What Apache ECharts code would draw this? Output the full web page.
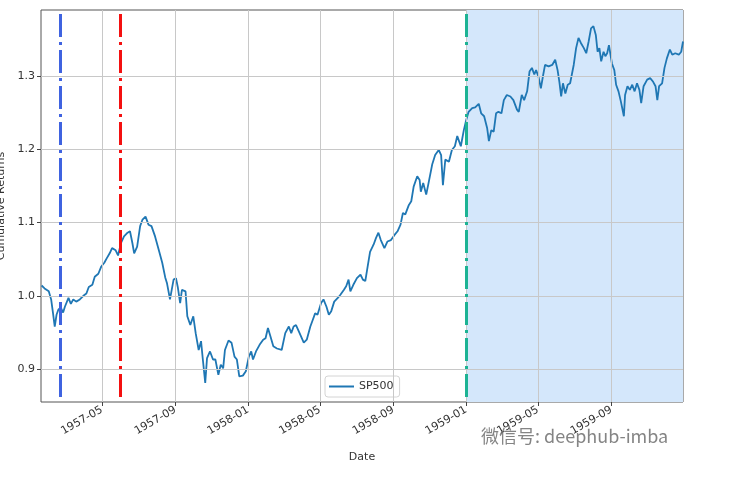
<!DOCTYPE html>
<html>
<head>
<meta charset="utf-8">
<script src="https://cdn.jsdelivr.net/npm/echarts@6/dist/echarts.min.js"></script>
<style>
html,body{margin:0;padding:0;background:#fff;}
#chart{width:749px;height:478px;}
</style>
</head>
<body>
<div id="chart"></div>
<script>
// ---- data ----
// days counted from BASE_DATE for each observation of the SP500 cumulative return
var BASE_DATE = '1957-01-01';
var dayOffsets = [
 19,24,27,31,35,38,41,44,47,51,55,58,64,68,72,77,83,89,94,98,104,108,114,119,124,128,133,137,143,147,
 152,157,163,167,171,174,179,184,188,193,198,203,209,215,221,226,229,234,240,244,247,251,254,260,263,268,273,277,282,286,
 289,293,296,301,306,310,315,319,323,326,332,337,342,346,350,356,361,366,370,373,378,384,390,394,398,402,407,413,421,427,
 433,437,441,445,451,458,463,469,473,477,481,487,491,496,500,504,509,515,519,525,529,533,536,541,547,553,557,561,565,569,
 575,579,583,587,593,598,604,610,615,620,624,628,634,638,642,648,652,654,658,663,667,673,678,684,688,691,695,701,706,711,
 715,718,721,726,730,734,740,745,751,755,760,765,768,772,776,780,784,789,793,798,804,809,815,818,823,827,832,836,840,844,
 847,851,855,859,862,868,874,879,883,886,889,892,896,900,904,910,914,918,922,927,931,935,939,943,947,950,953,956,960,963,
 966,969,971,974,978,981,985,989,994,996,1000,1004,1008,1012,1016,1020,1023,1027,1033,1038,1043,1047,1050,1053,1058,1062,1066,1071,1075,1080,
 1086,1090,1093
];
var cumReturns = [
 1.014,1.010,1.012,1.006,0.995,0.977,0.958,0.974,0.981,0.984,0.977,0.985,0.997,0.989,0.995,0.992,0.995,1.000,1.003,1.012,1.015,1.026,1.030,1.040,1.045,1.051,1.058,1.065,1.062,1.055,
 1.072,1.081,1.086,1.088,1.072,1.058,1.067,1.095,1.104,1.108,1.097,1.095,1.081,1.063,1.045,1.025,1.017,0.995,1.022,1.024,1.012,0.990,1.008,1.006,0.972,0.960,0.972,0.949,0.926,0.938,
 0.913,0.881,0.915,0.924,0.913,0.913,0.892,0.906,0.901,0.926,0.939,0.936,0.917,0.913,0.890,0.891,0.897,0.917,0.924,0.913,0.924,0.933,0.940,0.942,0.956,0.945,0.931,0.928,0.926,0.949,
 0.958,0.949,0.958,0.960,0.949,0.936,0.940,0.958,0.967,0.976,0.974,0.990,0.995,0.985,0.974,0.979,0.992,0.997,1.001,1.008,1.013,1.022,1.006,1.015,1.024,1.029,1.022,1.020,1.040,1.060,
 1.070,1.079,1.086,1.076,1.065,1.074,1.076,1.083,1.088,1.097,1.113,1.111,1.124,1.129,1.149,1.163,1.158,1.142,1.154,1.138,1.154,1.179,1.192,1.199,1.192,1.151,1.186,1.183,1.199,1.204,
 1.218,1.211,1.204,1.226,1.240,1.251,1.256,1.257,1.262,1.249,1.245,1.229,1.211,1.226,1.224,1.249,1.251,1.249,1.267,1.274,1.272,1.267,1.254,1.251,1.274,1.267,1.279,1.306,1.311,1.302,
 1.308,1.299,1.283,1.302,1.315,1.313,1.315,1.322,1.308,1.292,1.272,1.290,1.276,1.288,1.290,1.315,1.338,1.352,1.345,1.338,1.331,1.347,1.365,1.368,1.356,1.333,1.338,1.320,1.333,1.327,
 1.331,1.342,1.342,1.317,1.308,1.288,1.279,1.265,1.245,1.274,1.286,1.281,1.288,1.279,1.290,1.281,1.263,1.286,1.295,1.297,1.292,1.286,1.267,1.286,1.290,1.311,1.324,1.336,1.329,1.331,
 1.329,1.333,1.347
];
var seriesName = 'SP500';
var xTickDates = ['1957-05-01','1957-09-01','1958-01-01','1958-05-01','1958-09-01','1959-01-01','1959-05-01','1959-09-01'];
var yTicks = [0.9, 1.0, 1.1, 1.2, 1.3];
var xRange = ['1957-01-19', '1959-12-30'];
var yRange = [0.855, 1.39];
var vLineDates = ['1957-02-20', '1957-05-31', '1959-01-01'];
var vLineColors = ['#3f63e0', '#f41010', '#1db394'];
var shadeRange = ['1959-01-01', '1959-12-30'];
var xLabel = 'Date';
var yLabel = 'Cumulative Returns';
var watermark = '微信号: deephub-imba';

// ---- helpers ----
function ts(s){ var p = s.split('-'); return Date.UTC(+p[0], +p[1]-1, +p[2]); }
var base = ts(BASE_DATE);
var seriesData = dayOffsets.map(function(d, i){ return [base + d*86400000, cumReturns[i]]; });
var xTicks = xTickDates.map(ts);
function fmt(v){ var d = new Date(v); var m = d.getUTCMonth()+1; return d.getUTCFullYear() + '-' + (m<10?'0':'') + m; }

var font = 'DejaVu Sans';
var chart = echarts.init(document.getElementById('chart'), null, {renderer:'canvas'});
chart.setOption({
  animation: false,
  backgroundColor: '#fff',
  grid: {left: 41, right: 66, top: 10, bottom: 76, containLabel: false, outerBoundsMode: 'none',
         show: true, borderColor: '#555', borderWidth: 1, backgroundColor: 'transparent'},
  legend: {
    data: [seriesName], left: 325, top: 376, padding: [5, 6, 5, 4],
    backgroundColor: '#fff', borderColor: '#d4d4d4', borderWidth: 1, borderRadius: 3,
    icon: 'rect', itemWidth: 25, itemHeight: 2,
    textStyle: {fontFamily: font, fontSize: 11, color: '#333'}
  },
  xAxis: {
    type: 'value', min: ts(xRange[0]), max: ts(xRange[1]),
    name: xLabel, nameLocation: 'middle', nameGap: 50,
    nameTextStyle: {fontFamily: font, fontSize: 11, color: '#333'},
    axisLine: {show: false},
    axisTick: {show: true, customValues: xTicks, length: 4, lineStyle: {color: '#444'}},
    axisLabel: {customValues: xTicks, rotate: 30, margin: 7, fontFamily: font, fontSize: 11, color: '#333', formatter: fmt, hideOverlap: false},
    splitLine: {show: false}
  },
  yAxis: {
    type: 'value', min: yRange[0], max: yRange[1],
    name: yLabel, nameLocation: 'middle', nameGap: 33, nameRotate: 90,
    nameTextStyle: {fontFamily: font, fontSize: 11, color: '#333'},
    axisLine: {show: false},
    axisTick: {show: true, customValues: yTicks, length: 4, lineStyle: {color: '#444'}},
    axisLabel: {customValues: yTicks, margin: 6, fontFamily: font, fontSize: 11, color: '#333', formatter: function(v){ return v.toFixed(1); }},
    splitLine: {show: false}
  },
  series: [
    {
      type: 'line', data: [], z: 1, silent: true,
      markArea: {silent: true, itemStyle: {color: '#d4e7fb'}, data: [[{xAxis: ts(shadeRange[0])}, {xAxis: ts(shadeRange[1])}]]}
    },
    {
      type: 'line', data: [], z: 1, silent: true,
      markLine: {
        silent: true, symbol: ['none','none'], label: {show: false},
        lineStyle: {color: '#c8c8c8', width: 1, type: 'solid'},
        data: xTicks.map(function(t){ return {xAxis: t}; }).concat(yTicks.map(function(v){ return {yAxis: v}; }))
      }
    },
    {
      name: seriesName, type: 'line', data: seriesData, z: 3,
      showSymbol: false, symbol: 'none',
      lineStyle: {color: '#1f77b4', width: 1.8}, itemStyle: {color: '#1f77b4'}
    },
    {
      type: 'line', data: [], z: 4, silent: true,
      markLine: {
        silent: true, symbol: ['none','none'], label: {show: false},
        data: vLineDates.map(function(d, i){ return {xAxis: ts(d), lineStyle: {color: vLineColors[i], width: 3, type: [23, 5, 3, 5], dashOffset: -5}}; })
      }
    }
  ],
  graphic: [
    {type: 'text', left: 481, top: 427, silent: true, z: 100,
     style: {text: watermark, fontFamily: 'Noto Sans CJK SC', fontSize: 18, fill: 'rgba(110,110,110,0.85)'}}
  ]
});
</script>
</body>
</html>
